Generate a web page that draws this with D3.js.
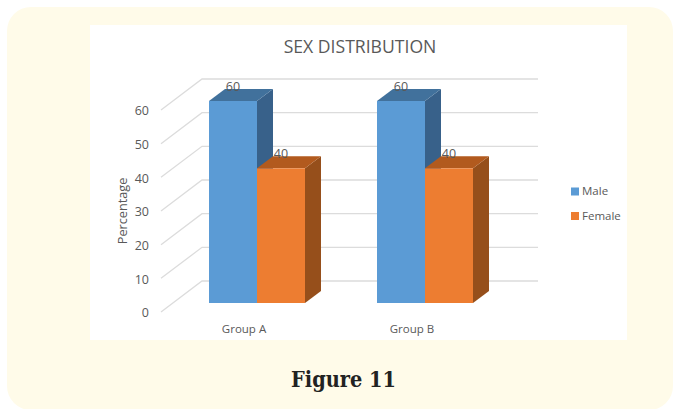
<!DOCTYPE html>
<html><head><meta charset="utf-8">
<script src="https://cdn.jsdelivr.net/npm/d3@7/dist/d3.min.js"></script>
<style>html,body{margin:0;padding:0;background:#fff}svg{display:block}text{font-family:"Open Sans",sans-serif}</style>
</head><body><svg id="c" width="673" height="409"></svg>
<script>
const categories = ["Group A", "Group B"];
const seriesNames = ["Male", "Female"];
const maleValues = [60, 60];
const femaleValues = [40, 40];
const yTicks = [0, 10, 20, 30, 40, 50, 60];
const titleText = "SEX DISTRIBUTION";
const yAxisLabel = "Percentage";
const figureCaption = "Figure 11";

const faces = {
  Male: {front: "#5b9bd5", top: "#41719c", side: "#38618a"},
  Female: {front: "#ed7d31", top: "#b25a1e", side: "#964f1b"}
};
const svg = d3.select("#c");
svg.append("rect").attr("x", 7).attr("y", 7).attr("width", 666).attr("height", 403).attr("rx", 24).attr("fill", "#fffbe9");
svg.append("rect").attr("x", 90).attr("y", 25).attr("width", 537).attr("height", 315).attr("fill", "#fff");

const depthX = 16, depthY = 12;
const y = d3.scaleLinear().domain([0, 60]).range([303, 101]);
const barW = 48;
const groupX = d3.scaleOrdinal().domain(categories).range([209, 377]);
const tickFront = v => y(v) + 9;
const tickBack = v => y(v) - 22;

const grid = svg.append("g").attr("stroke", "#dcdcdc").attr("stroke-width", 1.3).attr("fill", "none");
yTicks.forEach(v => {
  grid.append("path").attr("d", d3.line()([[161, tickFront(v)], [202, tickBack(v)], [538, tickBack(v)]]));
});

const ax = svg.append("g").attr("fill", "#595959").attr("font-size", 12.5);
yTicks.forEach(v => {
  ax.append("text").attr("x", 149).attr("y", tickFront(v) + 1).attr("dy", "0.35em").attr("text-anchor", "end").text(v);
});
categories.forEach(c => {
  svg.append("text").attr("x", groupX(c) + 35).attr("y", 333).attr("text-anchor", "middle")
    .attr("font-size", 11.5).attr("fill", "#595959").text(c);
});

const bars = svg.append("g");
const labels = svg.append("g").attr("fill", "#595959").attr("font-size", 12.5).attr("text-anchor", "middle");
categories.forEach((c, i) => {
  [[ "Male", maleValues[i], 0 ], [ "Female", femaleValues[i], 1 ]].forEach(([name, v, k]) => {
    const l = groupX(c) + k * barW, r = l + barW, t = y(v), b = y(0), f = faces[name];
    bars.append("path").attr("fill", f.side).attr("d", d3.line()([[r, t], [r + depthX, t - depthY], [r + depthX, b - depthY], [r, b]]) + "Z");
    bars.append("path").attr("fill", f.top).attr("d", d3.line()([[l, t], [l + depthX, t - depthY], [r + depthX, t - depthY], [r, t]]) + "Z");
    bars.append("rect").attr("x", l).attr("y", t).attr("width", barW).attr("height", b - t).attr("fill", f.front);
    labels.append("text").attr("x", l + 24).attr("y", t - 10).text(v);
  });
});

svg.append("text").attr("x", 360).attr("y", 52.5).attr("text-anchor", "middle").attr("font-size", 17.6).attr("fill", "#595959").text(titleText);
svg.append("text").attr("transform", "translate(127,211) rotate(-90)").attr("text-anchor", "middle").attr("font-size", 12.7).attr("fill", "#595959").text(yAxisLabel);

seriesNames.forEach((n, i) => {
  const ly = 191 + i * 24.5;
  svg.append("rect").attr("x", 571).attr("y", ly - 3.5).attr("width", 8).attr("height", 8).attr("fill", faces[n].front);
  svg.append("text").attr("x", 582).attr("y", ly).attr("dy", "0.35em").attr("font-size", 11.5).attr("fill", "#595959").text(n);
});

svg.append("text").attr("x", 343.5).attr("y", 387).attr("text-anchor", "middle").attr("font-size", 21.5).attr("font-weight", "bold")
  .attr("fill", "#222").style("font-family", '"DejaVu Serif Condensed","DejaVu Serif",serif').text(figureCaption);
</script></body></html>
